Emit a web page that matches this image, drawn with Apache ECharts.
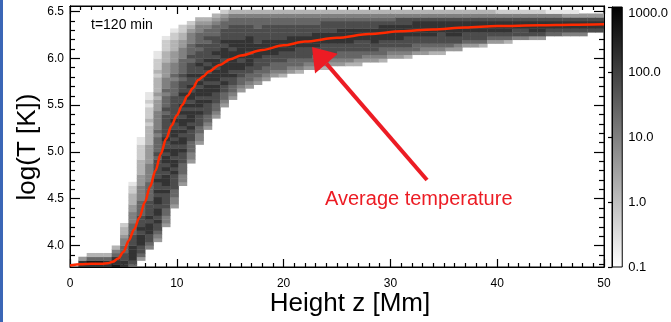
<!DOCTYPE html>
<html><head><meta charset="utf-8">
<script src="https://cdn.jsdelivr.net/npm/echarts@6/dist/echarts.min.js"></script>
<style>html,body{margin:0;padding:0;background:#fff}#c{width:671px;height:322px}</style>
</head><body><div id="c"></div>
<script>
// ---------- data ----------
const xTicks = [0, 10, 20, 30, 40, 50];
const yMajorTicks = [4.0, 4.5, 5.0, 5.5, 6.0, 6.5];
const yMinorTicks = [3.8,3.9,4.1,4.2,4.3,4.4,4.6,4.7,4.8,4.9,5.1,5.2,5.3,5.4,5.6,5.7,5.8,5.9,6.1,6.2,6.3,6.4];
const cbTicks = [0.1, 1, 10, 100, 1000];
const zRange = [0, 50];
const zBinCount = 64;
const tBinOrigin = 3.76;
const tBinSize = 0.04;
// average temperature curve
const avgZ = [0,1,2,3,3.5,4,4.5,5,5.5,6,6.5,7,7.5,8,8.5,9,9.5,10,10.5,11,11.5,12,12.5,13,14,15,16,18,20,22,25,28,31,34,37,40,44,47,50];
const avgT = [3.785,3.80,3.805,3.805,3.81,3.825,3.86,3.93,4.05,4.17,4.30,4.46,4.63,4.80,4.98,5.14,5.28,5.39,5.50,5.60,5.68,5.77,5.81,5.86,5.93,5.99,6.03,6.09,6.14,6.18,6.22,6.26,6.29,6.31,6.33,6.345,6.355,6.36,6.365];
// histogram: per height column, first logT bin index and log-count levels (1..9) going up
const colStart = [-1,0,0,0,0,0,0,0,2,5,7,11,16,22,28,33,37,40,43,45,47,48,49,50,51,51,52,52,53,53,53,54,54,54,54,55,55,55,56,56,56,57,57,57,57,58,58,59,59,59,60,60,60,61,61,61,61,62,62,62,62,62,63,63];
const colCodes = [
 "",
 "884",
 "8963",
 "8963",
 "8863",
 "988653",
 "887766554332",
 "67888877766655544333221",
 "467788878777666655554443333222211",
 "567788878777766666555554444433333232221211",
 "4567787887887877877777676666565555544434333323222 11".replace(/ /g,""),
 "455667777878887878878778777777676665655544443332221",
 "455667777878878878788778777777666656555444333221",
 "4556667778788787887878778777676666555443322",
 "45566677787888787887877877767666555432",
 "4556677787887887878778777676665543",
 "456677787888788787877776766543",
 "4566777887888788787777666543",
 "45667787888878887877766542",
 "456677878888878877776653",
 "4566778878888877776653",
 "456677888788887776653",
 "45667778888777766653",
 "4566777888877776653",
 "456677888877776653",
 "356677788877776653",
 "45667788887776653",
 "35667778887776653",
 "4567778887776653",
 "4566778888776653",
 "3566777888777653",
 "456777888777653",
 "456677888877653",
 "356677888877653",
 "346677788877653",
 "45677788877653",
 "45677888877653",
 "35667788887653",
 "4567788887653",
 "4567788887753",
 "3567778887753",
 "466778888753",
 "456778888753",
 "356778888753",
 "356777888753",
 "46778888753",
 "45778888753",
 "4677888753",
 "4677888753",
 "3677888753",
 "467888753",
 "467888752",
 "367888752",
 "57788752",
 "57788752",
 "47888752",
 "47888752",
 "6788751",
 "6788751",
 "5788741",
 "5788741",
 "578874",
 "78874",
 "78874"
];
// annotation anchors (data coordinates)
const arrowTail = [33.43, 4.70];
const arrowTip = [22.66, 6.122];
const noteText = "Average temperature";
const timeText = "t=120 min";

// ---------- build ----------
const zBin = (zRange[1] - zRange[0]) / zBinCount;
const cells = [];
for (let c = 0; c < colCodes.length; c++) {
  const s = colStart[c], codes = colCodes[c];
  if (s < 0) continue;
  for (let j = 0; j < codes.length; j++) {
    const lvl = +codes[j];
    if (!lvl) continue;
    const k = s + j;
    cells.push([zRange[0] + c * zBin, zRange[0] + (c + 1) * zBin,
      tBinOrigin + k * tBinSize, tBinOrigin + (k + 1) * tBinSize,
      Math.pow(10, 0.4 * lvl - 1)]);
  }
}
const FONT = 'Liberation Sans, Arial, Helvetica, sans-serif';
const RED = '#ec1c24';
function grayOf(v) {
  const f = (Math.log10(v) - Math.log10(cbTicks[0])) / (Math.log10(cbTicks[cbTicks.length - 1]) - Math.log10(cbTicks[0]));
  const g = Math.max(0, Math.min(255, Math.round(255 * (1 - f))));
  return 'rgb(' + g + ',' + g + ',' + g + ')';
}
const Y0 = 3.77, Y1 = 6.56;
const tickStyle = { color: '#000', width: 1.2 };
function yAx(pos, customTicks, len, showLabel) {
  return {
    type: 'value', gridIndex: 0, position: pos, offset: 0, min: Y0, max: Y1,
    axisLine: { show: true, lineStyle: { color: '#000', width: 1 } },
    axisTick: { show: true, inside: true, length: len, customValues: customTicks, lineStyle: tickStyle },
    axisLabel: showLabel ? { show: true, customValues: yMajorTicks, formatter: v => (+v).toFixed(1), fontSize: 12, color: '#000', margin: 6, fontFamily: FONT } : { show: false },
    splitLine: { show: false }
  };
}
function xAx(pos, showLabel) {
  return {
    type: 'value', gridIndex: 0, position: pos, min: zRange[0], max: zRange[1], interval: 10,
    axisLine: { show: true, lineStyle: { color: '#000', width: 1 } },
    axisTick: { show: true, inside: true, length: 8, lineStyle: tickStyle },
    minorTick: { show: true, splitNumber: 10, length: 4, lineStyle: tickStyle },
    axisLabel: showLabel ? { show: true, fontSize: 12, color: '#000', margin: 11, fontFamily: FONT,
      formatter: v => (xTicks.indexOf(+v) >= 0 ? String(v) : '') } : { show: false },
    splitLine: { show: false }
  };
}

const chart = echarts.init(document.getElementById('c'), null, { renderer: 'canvas' });
chart.setOption({
  animation: false,
  backgroundColor: '#fff',
  textStyle: { fontFamily: FONT, color: '#000' },
  grid: [
    { left: 70, top: 6, width: 534, height: 261, show: true, borderColor: '#000', borderWidth: 1, backgroundColor: 'transparent' },
    { left: 612, top: 7, width: 11, height: 260, show: true, borderColor: '#000', borderWidth: 1,
      backgroundColor: { type: 'linear', x: 0, y: 0, x2: 0, y2: 1, colorStops: [{ offset: 0, color: grayOf(cbTicks[cbTicks.length - 1]) }, { offset: 1, color: grayOf(cbTicks[0]) }] } }
  ],
  xAxis: [
    xAx('bottom', true),
    xAx('top', false),
    { type: 'value', gridIndex: 1, min: 0, max: 1, show: false }
  ],
  yAxis: [
    yAx('left', yMajorTicks, 10, true),
    yAx('left', yMinorTicks, 5, false),
    yAx('right', yMajorTicks, 10, false),
    yAx('right', yMinorTicks, 5, false),
    { type: 'log', logBase: 10, gridIndex: 1, position: 'right', min: cbTicks[0], max: cbTicks[cbTicks.length - 1],
      axisLine: { show: true, lineStyle: { color: '#000', width: 1 } },
      axisTick: { show: true, inside: true, length: 4, lineStyle: tickStyle },
      axisLabel: { show: true, fontSize: 13, color: '#000', margin: 6, fontFamily: FONT,
        verticalAlignMaxLabel: 'top',
        formatter: v => (+v).toFixed(1) },
      splitLine: { show: false } }
  ],
  series: [
    {
      type: 'custom', xAxisIndex: 0, yAxisIndex: 0, silent: true,
      dimensions: ['z0', 'z1', 't0', 't1', 'count'],
      encode: { x: [0, 1], y: [2, 3] },
      data: cells,
      renderItem: function (params, api) {
        const a = api.coord([api.value(0), api.value(3)]);
        const b = api.coord([api.value(1), api.value(2)]);
        const cs = params.coordSys;
        const r = echarts.graphic.clipRectByRect(
          { x: a[0], y: a[1], width: b[0] - a[0] + 0.4, height: b[1] - a[1] + 0.4 },
          { x: cs.x, y: cs.y, width: cs.width, height: cs.height });
        if (!r) return null;
        return { type: 'rect', shape: r, style: { fill: grayOf(api.value(4)) } };
      }
    },
    {
      type: 'line', xAxisIndex: 0, yAxisIndex: 0, silent: true,
      data: avgZ.map((z, i) => [z, avgT[i]]),
      smooth: 0.3, smoothMonotone: 'x', showSymbol: false, symbol: 'none',
      lineStyle: { color: '#ff2a00', width: 2.5 }, z: 5, clip: true
    }
  ]
});

// annotations
const fnd = { xAxisIndex: 0, yAxisIndex: 0 };
const P = chart.convertToPixel(fnd, arrowTip);
const T = chart.convertToPixel(fnd, arrowTail);
const dx = P[0] - T[0], dy = P[1] - T[1], L = Math.hypot(dx, dy);
const ux = dx / L, uy = dy / L, headLen = 22, headHalf = 15;
const B = [P[0] - ux * headLen, P[1] - uy * headLen];
const nx = -uy, ny = ux;
chart.setOption({
  graphic: [
    { type: 'rect', left: 0, top: 0, shape: { x: 0, y: 0, width: 3, height: 322 }, style: { fill: '#3b66b6' }, silent: true },
    { type: 'line', shape: { x1: T[0], y1: T[1], x2: B[0], y2: B[1] }, style: { stroke: RED, lineWidth: 4 }, z: 10, silent: true },
    { type: 'polygon', shape: { points: [P, [B[0] + nx * headHalf, B[1] + ny * headHalf], [B[0] - nx * headHalf, B[1] - ny * headHalf]] }, style: { fill: RED }, z: 10, silent: true },
    { type: 'text', x: 325, y: 199, style: { text: noteText, fill: RED, font: '20px ' + FONT, textAlign: 'left', textVerticalAlign: 'middle' }, z: 10, silent: true },
    { type: 'text', x: 91, y: 25, style: { text: timeText, fill: '#000', font: '14px ' + FONT, textAlign: 'left', textVerticalAlign: 'middle' }, z: 10, silent: true },
    { type: 'text', x: 350, y: 304, style: { text: 'Height z [Mm]', fill: '#000', font: '26px ' + FONT, textAlign: 'center', textVerticalAlign: 'middle' }, z: 10, silent: true },
    { type: 'text', x: 28, y: 147, rotation: Math.PI / 2, style: { text: 'log(T [K])', fill: '#000', font: '26px ' + FONT, textAlign: 'center', textVerticalAlign: 'middle' }, z: 10, silent: true }
  ]
});
</script>
</body></html>
